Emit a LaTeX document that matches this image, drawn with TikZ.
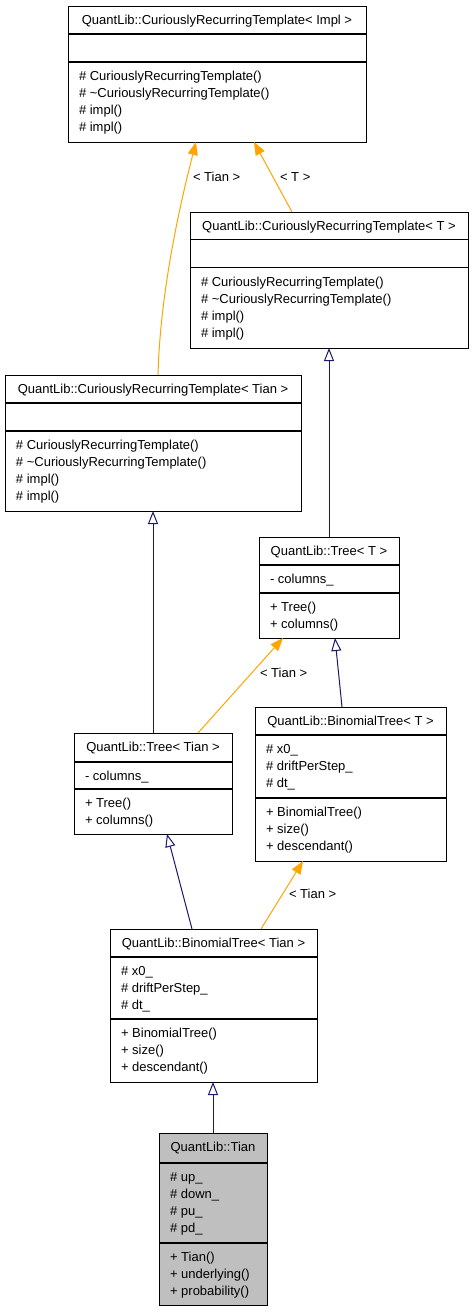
\documentclass[tikz,border=0pt]{standalone}
\usepackage{fontspec}
\setmainfont{Liberation Sans}
\usetikzlibrary{arrows.meta}
\definecolor{edgeorange}{HTML}{FFA500}
\definecolor{edgenavy}{HTML}{191970}
\definecolor{tiangray}{HTML}{BFBFBF}
\tikzset{
  clsbox/.style={draw=black,line width=1pt,inner sep=0pt,outer sep=0pt,fill=white},
  divline/.style={draw=black,line width=1.2pt},
  txt/.style={inner sep=0pt,outer sep=0pt,font=\fontsize{13}{17}\selectfont},
  ttl/.style={txt,anchor=base},
  mem/.style={txt,anchor=base west},
  lbl/.style={txt,anchor=west},
  tmpl/.style={draw=edgeorange,line width=1pt,-{Triangle[length=13pt,width=10pt,fill=edgeorange]}},
  inh/.style={draw=edgenavy,line width=1pt,-{Triangle[open,length=13pt,width=10pt,fill=white]}},
}
% name, L, T, R, d1, d2, B, extra style, title
\newcommand\umlcls[9]{%
  \node[clsbox,#8,anchor=north west,minimum width={#4-#2},minimum height={#7-#3}] (#1) at (#2,#3) {};
  \draw[divline] (#1.west |- 0,#5) -- (#1.east |- 0,#5);
  \draw[divline] (#1.west |- 0,#6) -- (#1.east |- 0,#6);
  \node[ttl] (#1-title) at ({(#2+#4)/2},{#3+18.7}) {#9};
}
% name, x, ystart, prefix, list
\newcommand\umlmembers[5]{%
  \foreach \txt [count=\i from 0] in {#5} {\node[mem] (#1-#4\i) at ({#2+11},{#3+18.7+17*\i}) {\txt};}
}
\begin{document}
\begin{tikzpicture}[x=1pt,y=-1pt]
\useasboundingbox (0,0) rectangle (473,1312);

% classes
\umlcls{crtImpl}{68}{6}{366}{34}{62}{142}{}{QuantLib::CuriouslyRecurringTemplate< Impl >}
\umlmembers{crtImpl}{68}{62}{m}{{\# CuriouslyRecurringTemplate()},{\# \textasciitilde CuriouslyRecurringTemplate()},{\# impl()},{\# impl()}}

\umlcls{crtT}{190}{212}{468}{239.5}{267.5}{348}{}{QuantLib::CuriouslyRecurringTemplate< T >}
\umlmembers{crtT}{190}{267.5}{m}{{\# CuriouslyRecurringTemplate()},{\# \textasciitilde CuriouslyRecurringTemplate()},{\# impl()},{\# impl()}}

\umlcls{crtTian}{5}{375}{301}{403}{431}{511}{}{QuantLib::CuriouslyRecurringTemplate< Tian >}
\umlmembers{crtTian}{5}{431}{m}{{\# CuriouslyRecurringTemplate()},{\# \textasciitilde CuriouslyRecurringTemplate()},{\# impl()},{\# impl()}}

\umlcls{treeT}{259}{537}{399}{565}{593}{638}{}{QuantLib::Tree< T >}
\umlmembers{treeT}{259}{565}{a}{{- columns\_}}
\umlmembers{treeT}{259}{593}{m}{{+ Tree()},{+ columns()}}

\umlcls{binT}{255}{707}{446}{735}{798}{861}{}{QuantLib::BinomialTree< T >}
\umlmembers{binT}{255}{735}{a}{{\# x0\_},{\# driftPerStep\_},{\# dt\_}}
\umlmembers{binT}{255}{798}{m}{{+ BinomialTree()},{+ size()},{+ descendant()}}

\umlcls{treeTian}{74}{733}{232}{762}{789}{834}{}{QuantLib::Tree< Tian >}
\umlmembers{treeTian}{74}{762}{a}{{- columns\_}}
\umlmembers{treeTian}{74}{789}{m}{{+ Tree()},{+ columns()}}

\umlcls{binTian}{110}{929}{317}{957}{1019}{1082}{}{QuantLib::BinomialTree< Tian >}
\umlmembers{binTian}{110}{957}{a}{{\# x0\_},{\# driftPerStep\_},{\# dt\_}}
\umlmembers{binTian}{110}{1019}{m}{{+ BinomialTree()},{+ size()},{+ descendant()}}

\umlcls{tian}{159}{1133}{267}{1163}{1243}{1305}{fill=tiangray}{QuantLib::Tian}
\umlmembers{tian}{159}{1163}{a}{{\# up\_},{\# down\_},{\# pu\_},{\# pd\_}}
\umlmembers{tian}{159}{1243}{m}{{+ Tian()},{+ underlying()},{+ probability()}}

% connectors
\draw[tmpl] (158,0 |- crtTian.north) .. controls (160,300) and (176,220) .. (196,0 |- crtImpl.south);
\node[lbl] (l1) at (193,177) {< Tian >};
\draw[tmpl] (292,0 |- crtT.north) -- (254,0 |- crtImpl.south);
\node[lbl] (l2) at (280,177) {< T >};
\draw[inh] (329,0 |- treeT.north) -- (329,0 |- crtT.south);
\draw[inh] (153,0 |- treeTian.north) -- (153,0 |- crtTian.south);
\draw[tmpl] (198,0 |- treeTian.north) -- (283,0 |- treeT.south);
\node[lbl] (l3) at (260,673) {< Tian >};
\draw[inh] (342,0 |- binT.north) -- (335,0 |- treeT.south);
\draw[inh] (192,0 |- binTian.north) -- (167,0 |- treeTian.south);
\draw[tmpl] (261,0 |- binTian.north) -- (303,0 |- binT.south);
\node[lbl] (l4) at (289,894) {< Tian >};
\draw[inh] (213,0 |- tian.north) -- (213,0 |- binTian.south);
\end{tikzpicture}
\end{document}
